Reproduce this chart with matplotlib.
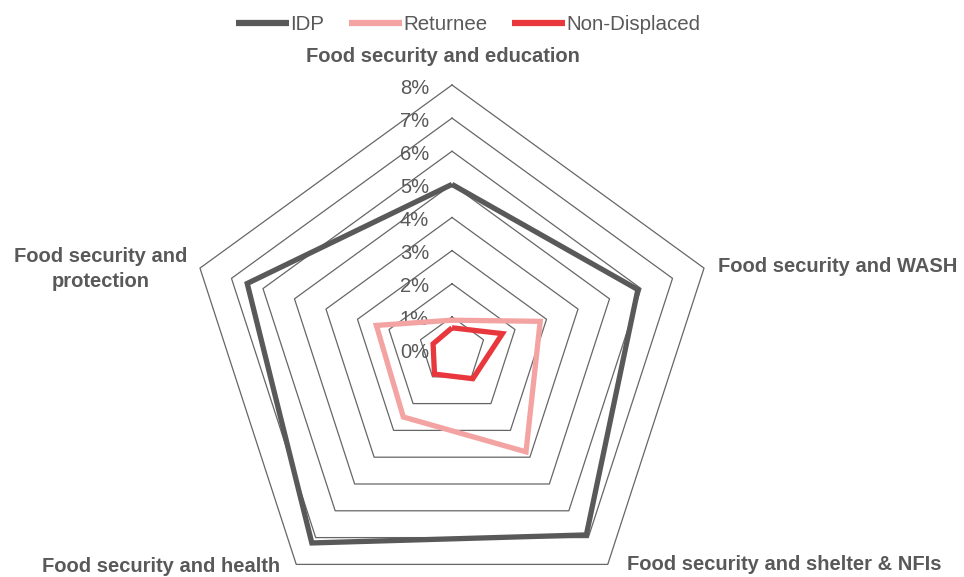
import numpy as np
import matplotlib
matplotlib.use("Agg")
import matplotlib.pyplot as plt
from matplotlib import font_manager, transforms

# data (percent)
categories = ["Food security and education", "Food security and WASH",
              "Food security and shelter & NFIs", "Food security and health",
              "Food security and\nprotection"]
idp = [5.0, 5.9, 6.9, 7.2, 6.5]
returnee = [0.9, 2.8, 3.8, 2.5, 2.4]
non_displaced = [0.67, 1.6, 1.07, 0.9, 0.6]
ring_levels = [1, 2, 3, 4, 5, 6, 7, 8]
tick_labels = ["0%", "1%", "2%", "3%", "4%", "5%", "6%", "7%", "8%"]

# text looks like Arial Narrow; fall back to a wider font at a smaller size
names = {f.name for f in font_manager.fontManager.ttflist}
if "Liberation Sans Narrow" in names:
    family, fsize = "Liberation Sans Narrow", 17.5
else:
    family, fsize = "Liberation Sans", 14.5
plt.rcParams["font.family"] = [family, "DejaVu Sans"]

W, H = 964, 577
fig = plt.figure(figsize=(W / 100, H / 100), dpi=100)

cx, cy, R = 452, 350, 265  # centre and outer radius in pixels
ax = fig.add_axes([(cx - R) / W, (H - cy - R) / H, 2 * R / W, 2 * R / H],
                  projection="polar")
ax.set_theta_offset(np.pi / 2)
ax.set_theta_direction(-1)
ax.set_ylim(0, 8)
ax.set_axis_off()

n = len(categories)
theta = np.linspace(0, 2 * np.pi, n, endpoint=False)
theta_c = np.append(theta, theta[0])

# pentagon gridlines
for lev in ring_levels:
    ax.plot(theta_c, [lev] * (n + 1), color="#666666", lw=0.9, clip_on=False, zorder=1)

series = [("IDP", idp, "#595959"),
          ("Returnee", returnee, "#F4A3A3"),
          ("Non-Displaced", non_displaced, "#E8383D")]
for name, vals, col in series:
    ax.plot(theta_c, list(vals) + [vals[0]], color=col, lw=3.8, label=name,
            solid_joinstyle="miter", solid_capstyle="butt", clip_on=False, zorder=3)

# value axis labels
off = transforms.offset_copy(ax.transData, fig=fig, x=-23, y=-3, units="dots")
for i, lab in enumerate(tick_labels):
    ax.text(0, i, lab, transform=off, ha="right", va="center",
            fontsize=fsize, color="#595959", zorder=2)

# category labels (pixel positions from the reference)
cat_pos = [(443, 57, "center"), (718, 266, "left"), (784, 565, "center"),
           (161, 566, "center"), (101, 269, "center")]
for lab, (x, y, ha) in zip(categories, cat_pos):
    fig.text(x / W, 1 - y / H, lab, ha=ha, va="center", fontsize=fsize,
             fontweight="bold", color="#595959", multialignment="center",
             linespacing=1.35)

leg = fig.legend(loc="center", bbox_to_anchor=(468 / W, 1 - 25 / H), ncol=3,
                 frameon=False, fontsize=fsize + 0.3, handlelength=2.6,
                 handletextpad=0.05, columnspacing=1.2, borderaxespad=0)
for t in leg.get_texts():
    t.set_color("#595959")
for h in leg.legend_handles:
    h.set_linewidth(4.5)

fig.savefig("out.png", dpi=100)
